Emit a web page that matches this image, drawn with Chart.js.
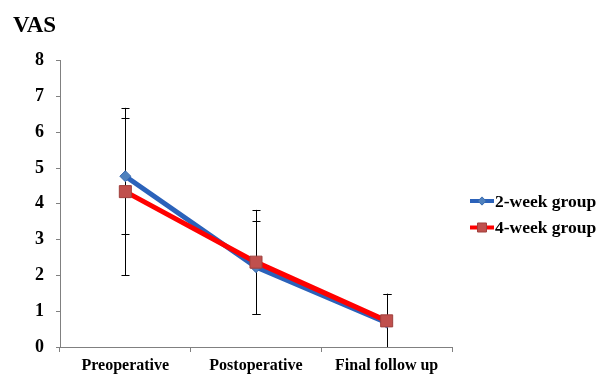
<!DOCTYPE html>
<html>
<head>
<meta charset="utf-8">
<script src="https://cdn.jsdelivr.net/npm/chart.js@4.4.0/dist/chart.umd.min.js"></script>
<style>
html, body { margin:0; padding:0; background:#fff; }
#wrap { width:604px; height:374px; }
</style>
</head>
<body>
<div id="wrap"><canvas id="myChart"></canvas></div>
<script>
// datos
const categorias = ["Preoperative", "Postoperative", "Final follow up"]
const grupo2 = [4.77, 2.23, 0.68]
const grupo4 = [4.34, 2.37, 0.73]
const error2 = [1.62, 1.30, 0.80]
const error4 = [2.34, 1.46, 0.76]
const ticksY = [0, 1, 2, 3, 4, 5, 6, 7, 8]
const nombres = ["2-week group", "4-week group"]

const fuente = "'Liberation Serif', 'Times New Roman', serif"

// barras de error dibujadas con las escalas del grafico
const barrasError = {
    id: 'barrasError',
    beforeDatasetsDraw(chart) {
        const {ctx, chartArea, scales: {x, y}} = chart
        ctx.save()
        ctx.beginPath()
        ctx.rect(chartArea.left, chartArea.top - 30, chartArea.width, chartArea.height + 30)
        ctx.clip()
        ctx.strokeStyle = '#000'
        ctx.lineWidth = 1
        chart.data.datasets.forEach(ds => {
            ds.data.forEach((v, i) => {
                const px = Math.round(x.getPixelForValue(i)) + 0.5
                const arriba = y.getPixelForValue(v + ds.errores[i])
                const abajo = y.getPixelForValue(v - ds.errores[i])
                ctx.beginPath()
                ctx.moveTo(px, arriba)
                ctx.lineTo(px, abajo)
                ctx.moveTo(px - 4, Math.round(arriba) + 0.5)
                ctx.lineTo(px + 4, Math.round(arriba) + 0.5)
                ctx.moveTo(px - 4, Math.round(abajo) + 0.5)
                ctx.lineTo(px + 4, Math.round(abajo) + 0.5)
                ctx.stroke()
            })
        })
        ctx.restore()
    }
}

// leyenda con linea y marcador
const leyenda = {
    id: 'leyenda',
    afterDraw(chart) {
        const {ctx, chartArea} = chart
        const x0 = chartArea.right + 18
        let y0 = 201
        chart.data.datasets.forEach(ds => {
            ctx.save()
            ctx.strokeStyle = ds.borderColor
            ctx.lineWidth = 4
            ctx.beginPath()
            ctx.moveTo(x0, y0)
            ctx.lineTo(x0 + 24, y0)
            ctx.stroke()
            ctx.fillStyle = ds.pointBackgroundColor
            ctx.strokeStyle = ds.pointBorderColor
            ctx.lineWidth = 1
            Chart.helpers.drawPoint(ctx, {pointStyle: ds.pointStyle, radius: ds.pointRadius * 0.75, borderWidth: 1}, x0 + 12, y0)
            ctx.fillStyle = '#000'
            ctx.font = "bold 17.5px " + fuente
            ctx.textBaseline = 'middle'
            ctx.fillText(ds.label, x0 + 25, y0 + 1)
            ctx.restore()
            y0 += 26.5
        })
    }
}

const canvas = document.querySelector("#myChart")
const myChart = new Chart(canvas, {
    type: 'line',
    data: {
        labels: categorias,
        datasets: [
            {
                label: nombres[0],
                data: grupo2,
                errores: error2,
                borderColor: '#2b62ba',
                borderWidth: 5,
                pointStyle: 'rectRot',
                pointRadius: 5.5,
                pointBackgroundColor: '#4f81bd',
                pointBorderColor: '#3a6bb0',
                pointBorderWidth: 1,
                order: 1
            },
            {
                label: nombres[1],
                data: grupo4,
                errores: error4,
                borderColor: '#ff0000',
                borderWidth: 5,
                pointStyle: 'rect',
                pointRadius: 8.5,
                pointBackgroundColor: '#c0504d',
                pointBorderColor: '#a0403d',
                pointBorderWidth: 1,
                order: 0
            }
        ]
    },
    options: {
        responsive: true,
        maintainAspectRatio: false,
        animation: false,
        layout: { padding: { left: 13, right: 152, top: 0, bottom: 0 } },
        plugins: {
            legend: { display: false },
            tooltip: { enabled: false },
            title: {
                display: true,
                text: 'VAS',
                align: 'start',
                color: '#000',
                font: { family: fuente, size: 23, weight: 'bold' },
                padding: { top: 12, bottom: 21 }
            }
        },
        scales: {
            x: {
                offset: true,
                grid: { display: true, offset: true, drawOnChartArea: false, drawTicks: true, tickLength: 5, color: '#808080' },
                border: { color: '#808080', width: 1 },
                ticks: { color: '#000', font: { family: fuente, size: 16, weight: 'bold' }, padding: 4, maxRotation: 0 },
                afterFit(s) { s.height = 27 }
            },
            y: {
                min: ticksY[0],
                max: ticksY[ticksY.length - 1],
                grid: { display: true, drawOnChartArea: false, drawTicks: true, tickLength: 4, color: '#808080' },
                border: { color: '#808080', width: 1 },
                ticks: { stepSize: 1, color: '#000', font: { family: fuente, size: 18, weight: 'bold' }, padding: 12 },
                afterFit(s) { s.width = 47 }
            }
        }
    },
    plugins: [barrasError, leyenda]
})
</script>
</body>
</html>
